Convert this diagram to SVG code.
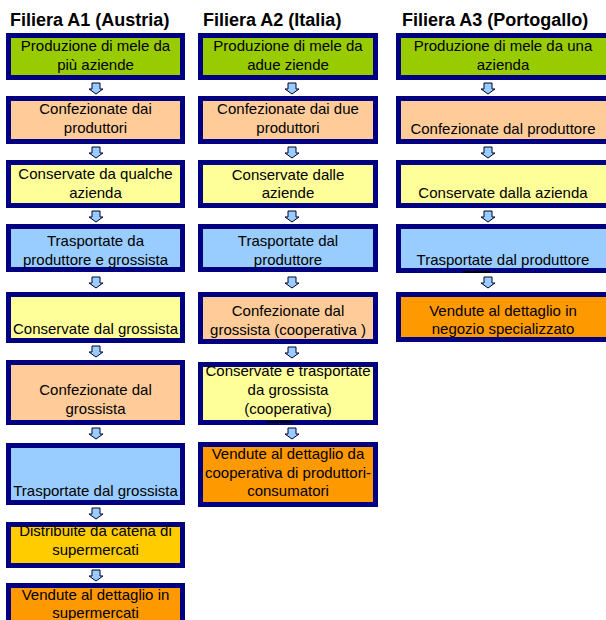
<svg xmlns="http://www.w3.org/2000/svg" xmlns:xlink="http://www.w3.org/1999/xlink" width="606" height="620" viewBox="0 0 606 620">
<style>
.box{stroke:#000080;stroke-width:5}
.g{fill:#99cc00}.p{fill:#ffcc99}.y{fill:#ffff99}.b{fill:#99ccff}.gd{fill:#ffcc00}.o{fill:#ff9900}
text{font-family:"Liberation Sans",Arial,sans-serif;font-size:15px;fill:#000;text-anchor:middle}
.t{font-size:18px;font-weight:bold;text-anchor:start}
.arr{fill:#99ccff;stroke:#000033;stroke-width:1}
</style>
<defs>
<path id="ar" class="arr" d="M-4,0 h8 v6 h3 l-7,5 l-7,-5 h3 z"/>
</defs>
<rect width="606" height="620" fill="#fff"/>
<g id="titles">
<text class="t" x="10" y="26">Filiera A1 (Austria)</text>
<text class="t" x="203" y="26">Filiera A2 (Italia)</text>
<text class="t" x="402" y="26">Filiera A3 (Portogallo)</text>
</g>
<g id="connectors">
<use xlink:href="#ar" x="96" y="83"/>
<use xlink:href="#ar" x="96" y="147"/>
<use xlink:href="#ar" x="96" y="211"/>
<use xlink:href="#ar" x="96" y="277"/>
<use xlink:href="#ar" x="96" y="346"/>
<use xlink:href="#ar" x="96" y="428"/>
<use xlink:href="#ar" x="96" y="508"/>
<use xlink:href="#ar" x="96" y="570"/>
<use xlink:href="#ar" x="292" y="83"/>
<use xlink:href="#ar" x="292" y="147"/>
<use xlink:href="#ar" x="292" y="211"/>
<use xlink:href="#ar" x="292" y="277"/>
<use xlink:href="#ar" x="292" y="347"/>
<use xlink:href="#ar" x="292" y="428"/>
<use xlink:href="#ar" x="488" y="83"/>
<use xlink:href="#ar" x="488" y="147"/>
<use xlink:href="#ar" x="488" y="211"/>
<use xlink:href="#ar" x="488" y="277"/>
</g>
<!-- Column A1 -->
<g id="a1n1"><rect class="box g" x="8.5" y="35.5" width="174" height="42"/><text x="95.5" y="51">Produzione di mele da</text><text x="95.5" y="70">più aziende</text></g>
<g id="a1n2"><rect class="box p" x="8.5" y="98.5" width="174" height="43"/><text x="95.5" y="114">Confezionate dai</text><text x="95.5" y="133">produttori</text></g>
<g id="a1n3"><rect class="box y" x="8.5" y="162.5" width="174" height="43"/><text x="95.5" y="179">Conservate da qualche</text><text x="95.5" y="198">azienda</text></g>
<g id="a1n4"><rect class="box b" x="8.5" y="226.5" width="174" height="43"/><text x="95.5" y="246">Trasportate da</text><text x="95.5" y="265">produttore e grossista</text></g>
<g id="a1n5"><rect class="box y" x="8.5" y="294.5" width="174" height="46"/><text x="95.5" y="334">Conservate dal grossista</text></g>
<g id="a1n6"><rect class="box p" x="8.5" y="362.5" width="174" height="60"/><text x="95.5" y="395">Confezionate dal</text><text x="95.5" y="414">grossista</text></g>
<g id="a1n7"><rect class="box b" x="8.5" y="445.5" width="174" height="57"/><text x="95.5" y="496">Trasportate dal grossista</text></g>
<g id="a1n8"><rect class="box gd" x="8.5" y="524.5" width="174" height="41"/><text x="95.5" y="536">Distribuite da catena di</text><text x="95.5" y="555">supermercati</text></g>
<g id="a1n9"><rect class="box o" x="8.5" y="585.5" width="174" height="50"/><text x="95.5" y="600">Vendute al dettaglio in</text><text x="95.5" y="618">supermercati</text></g>
<!-- Column A2 -->
<g id="a2n1"><rect class="box g" x="200.5" y="35.5" width="175" height="42"/><text x="288" y="51">Produzione di mele da</text><text x="288" y="70">adue ziende</text></g>
<g id="a2n2"><rect class="box p" x="200.5" y="98.5" width="175" height="43"/><text x="288" y="114">Confezionate dai due</text><text x="288" y="133">produttori</text></g>
<g id="a2n3"><rect class="box y" x="200.5" y="162.5" width="175" height="43"/><text x="288" y="180">Conservate dalle</text><text x="288" y="198">aziende</text></g>
<g id="a2n4"><rect class="box b" x="200.5" y="226.5" width="175" height="43"/><text x="288" y="246">Trasportate dal</text><text x="288" y="265">produttore</text></g>
<g id="a2n5"><rect class="box p" x="200.5" y="294.5" width="175" height="47"/><text x="288" y="316">Confezionate dal</text><text x="288" y="335">grossista (cooperativa )</text></g>
<g id="a2n6"><rect class="box y" x="200.5" y="364.5" width="175" height="58"/><text x="288" y="376">Conservate e trasportate</text><text x="288" y="395">da grossista</text><text x="288" y="414">(cooperativa)</text><line x1="267" y1="422" x2="293" y2="422" stroke="#000" stroke-width="2"/></g>
<g id="a2n7"><rect class="box o" x="200.5" y="444.5" width="175" height="60"/><text x="288" y="459">Vendute al dettaglio da</text><text x="288" y="478">cooperativa di produttori-</text><text x="288" y="496">consumatori</text></g>
<!-- Column A3 -->
<g id="a3n1"><rect class="box g" x="398.5" y="35.5" width="211" height="42"/><text x="503" y="51">Produzione di mele da una</text><text x="503" y="70">azienda</text></g>
<g id="a3n2"><rect class="box p" x="398.5" y="98.5" width="211" height="43"/><text x="503" y="134">Confezionate dal produttore</text></g>
<g id="a3n3"><rect class="box y" x="398.5" y="162.5" width="211" height="43"/><text x="503" y="198">Conservate dalla azienda</text></g>
<g id="a3n4"><rect class="box b" x="398.5" y="226.5" width="211" height="44"/><text x="503" y="265">Trasportate dal produttore</text><line x1="463" y1="272" x2="490" y2="272" stroke="#000" stroke-width="2"/></g>
<g id="a3n5"><rect class="box o" x="398.5" y="294.5" width="211" height="45"/><text x="503" y="316">Vendute al dettaglio in</text><text x="503" y="334">negozio specializzato</text></g>
</svg>
